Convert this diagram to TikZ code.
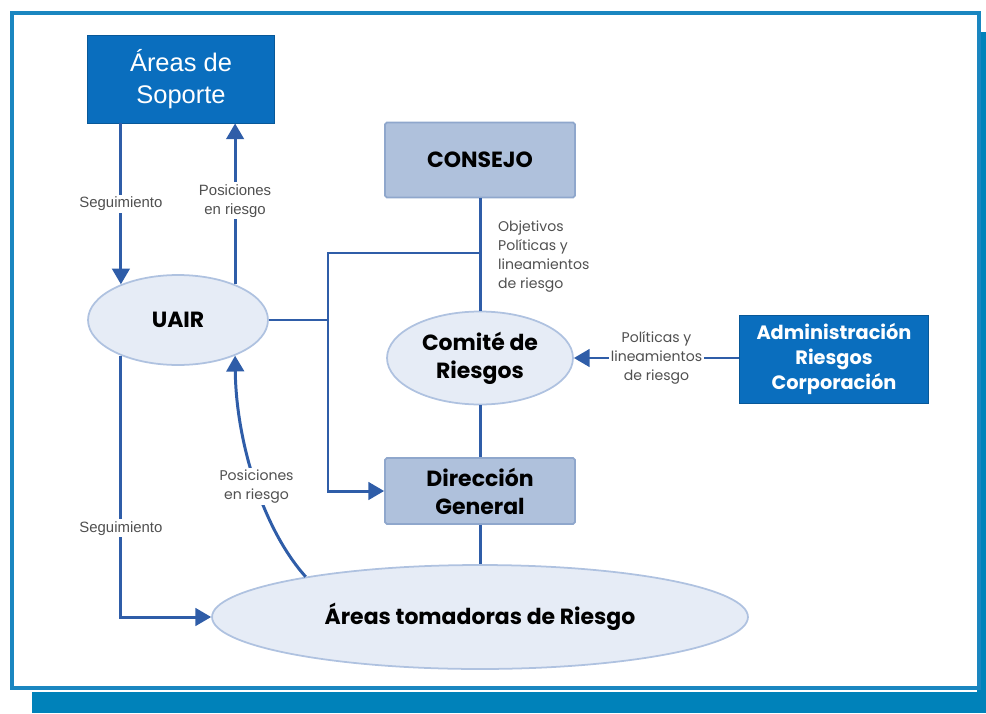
\documentclass[tikz,border=0pt]{standalone}
\usepackage{fontspec}
\setmainfont{Liberation Sans}
\newfontfamily\gothic{Poppins}
\usetikzlibrary{shapes.geometric,arrows.meta,calc}
\definecolor{framecol}{HTML}{1A86C0}
\definecolor{barcol}{HTML}{0082BA}
\definecolor{darkblue}{HTML}{0A6EBE}
\definecolor{steel}{HTML}{AFC1DC}
\definecolor{steelline}{HTML}{8FA7CC}
\definecolor{ovalfill}{HTML}{E6ECF6}
\definecolor{ovalline}{HTML}{AFC2E0}
\definecolor{linecol}{HTML}{2F5DA8}
\definecolor{lblcol}{HTML}{505050}
\tikzset{
    bluebox/.style={rectangle, fill=darkblue, draw=darkblue!80!black, line width=0.5pt, text=white, align=center},
    greybox/.style={rectangle, rounded corners=1pt, fill=steel, draw=steelline, line width=1pt, align=center, font=\gothic\bfseries\fontsize{12.5}{16}\selectfont},
    oval/.style={ellipse, fill=ovalfill, draw=ovalline, line width=1pt, inner sep=0pt, align=center, font=\gothic\bfseries\fontsize{12.5}{16}\selectfont},
    lbl/.style={text=lblcol, align=center, inner sep=1pt, font=\fontsize{8.5}{10.8}\selectfont},
    glbl/.style={text=lblcol, align=center, inner sep=1pt, font=\gothic\fontsize{8}{10.8}\selectfont},
    line/.style={draw=linecol, line width=1.7pt},
    flow/.style={line, -{Triangle[length=9pt,width=10pt]}}
}
\begin{document}
\begin{tikzpicture}[x=0.02cm, y=-0.02cm]
\useasboundingbox (0,0) rectangle (986,713);

% frame
\fill[barcol] (977,32) rectangle (986,713);
\fill[barcol] (32,692) rectangle (986,713);
\draw[framecol, line width=2pt] (12,13) rectangle (979,688);

% boxes and ovals
\node[bluebox, minimum width=3.74cm, minimum height=1.76cm, font=\fontsize{14.5}{18.5}\selectfont] (soporte) at (181,79) {Áreas de\\Soporte};
\node[greybox, minimum width=3.8cm, minimum height=1.5cm] (consejo) at (480,160) {CONSEJO};
\node[oval, minimum width=3.6cm, minimum height=1.8cm] (uair) at (178,320) {UAIR};
\node[oval, minimum width=3.72cm, minimum height=1.86cm] (comite) at (480,358) {Comité de\\Riesgos};
\node[greybox, minimum width=3.8cm, minimum height=1.32cm] (direccion) at (480,491) {Dirección\\General};
\node[bluebox, minimum width=3.78cm, minimum height=1.76cm, font=\gothic\bfseries\fontsize{11}{14}\selectfont] (admin) at (834,359) {Administración\\Riesgos\\Corporación};
\node[oval, minimum width=10.72cm, minimum height=2.08cm] (tomadoras) at (480,617) {Áreas tomadoras de Riesgo};

% connectors
\coordinate (j1) at (328,253);
\draw[flow] (soporte.south -| uair.148) -- node[lbl, fill=white] {Seguimiento} (uair.148);
\draw[flow] (uair.32) -- node[lbl, fill=white, pos=0.52] {Posiciones\\en riesgo} (uair.32 |- soporte.south);
\draw[line] (consejo.south) -- (comite.north);
\node[glbl, align=left, anchor=north west] (objetivos) at (496,219) {Objetivos\\Políticas y\\lineamientos\\de riesgo};
\draw[line] (uair.east) -- (uair.east -| j1);
\draw[flow] (consejo.south |- j1) -- (j1) -- (j1 |- direccion.west) -- (direccion.west);
\draw[line] (comite.south) -- (direccion.north);
\draw[line] (direccion.south) -- (tomadoras.north);
\draw[flow] (admin.west |- comite.east) -- node[glbl, fill=white] {Políticas y\\lineamientos\\de riesgo} (comite.east);
\draw[flow] (uair.212) -- node[lbl, fill=white, pos=0.66] {Seguimiento} (uair.212 |- tomadoras.west) -- (tomadoras.west);
\draw[flow] (tomadoras.167) .. controls (262,528) and (236,440) .. node[glbl, fill=white, pos=0.47] {Posiciones\\en riesgo} (uair.-32);

\end{tikzpicture}
\end{document}
